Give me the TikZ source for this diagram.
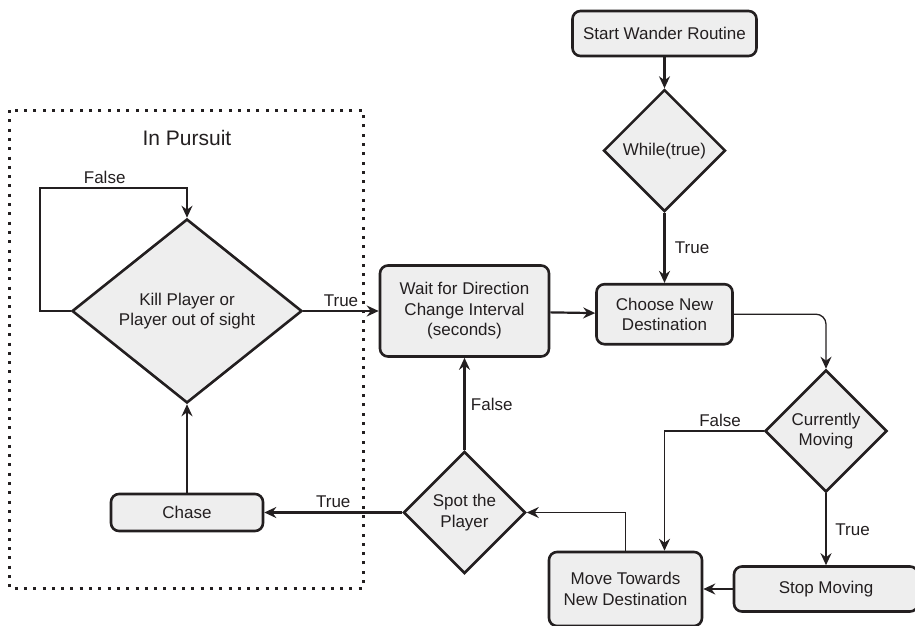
\documentclass[tikz,border=0pt]{standalone}
\usepackage{fontspec}
\setmainfont{Liberation Sans}
\usetikzlibrary{arrows.meta, positioning, shapes.geometric}
\definecolor{BoxFill}{HTML}{EEEEEE}
\definecolor{Ink}{HTML}{231F20}

\begin{document}
\begin{tikzpicture}[x=1pt, y=-1pt,
  every node/.style={font=\fontsize{17}{20.5}\selectfont, align=center, text=Ink},
  box/.style={draw=Ink, fill=BoxFill, line width=2.6pt, rounded corners=8pt, inner sep=0pt},
  cond/.style={diamond, draw=Ink, fill=BoxFill, line width=2.6pt, inner sep=0pt, minimum width=122pt, minimum height=122pt},
  flow/.style={draw=Ink, line width=2.2pt, -{Stealth[length=12pt, width=11pt, inset=4pt]}},
  link/.style={flow, line width=1.3pt}]
\useasboundingbox (0,0) rectangle (915,626);

% group frame
\node[font=\fontsize{21}{24}\selectfont] (pursuit) at (187,138) {In Pursuit};
\draw[Ink, line width=3pt, dash pattern=on 3pt off 6.3pt] (9,110) rectangle (363,588);

\node[box, minimum width=184pt, minimum height=45pt] (start) at (664.5,33.5) {Start Wander Routine};
\node[cond, below=31pt of start] (while) {While(true)};
\node[box, minimum width=136pt, minimum height=60pt, below=70pt of while] (choose) {Choose New\\Destination};
\node[box, minimum width=169pt, minimum height=91pt] (wait) at (464.5,311) {Wait for Direction\\Change Interval\\(seconds)};
\node[cond] (moving) at (826,431) {Currently\\Moving};
\node[box, minimum width=184pt, minimum height=45pt] (stop) at (826,589) {Stop Moving};
\node[box, minimum width=153pt, minimum height=74pt] (move) at (625.5,589) {Move Towards\\New Destination};
\node[cond] (spot) at (464.5,512.5) {Spot the\\Player};
\node[box, minimum width=152pt, minimum height=37pt] (chase) at (187,512.5) {Chase};
\node[cond, minimum width=230pt, minimum height=184pt] (kill) at (187,311) {Kill Player or\\Player out of sight};
\coordinate (loop) at (40,188);

% wander loop
\draw[flow] (start) -- (while);
\draw[flow] (while) -- node[right=6pt]{True} (choose);
\draw[flow] (wait) -- (choose);
\draw[link, rounded corners=10pt] (choose.east) -| (moving.north);
\draw[link] (moving.west) -| node[pos=0.22, above]{False} ([xshift=39pt]move.north);
\draw[flow] (moving) -- node[right=5pt]{True} (stop);
\draw[flow] (stop) -- (move);
\draw[link] (move.north) |- (spot.east);
\draw[flow] (spot) -- node[right=2pt]{False} (wait);

% pursuit
\draw[flow] (spot) -- node[above]{True} (chase);
\draw[flow] (chase) -- (kill);
\draw[flow] (kill) -- node[above]{True} (wait);
\draw[link] (kill.west) -| (loop) -| node[pos=0.22, above]{False} (kill.north);
\end{tikzpicture}
\end{document}
